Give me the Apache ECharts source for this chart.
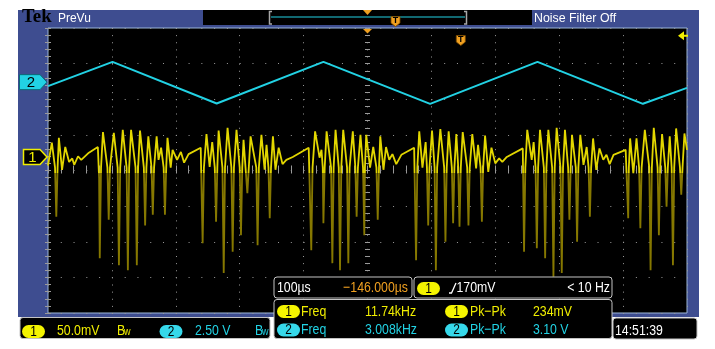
<!DOCTYPE html>
<html><head><meta charset="utf-8">
<script src="https://cdn.jsdelivr.net/npm/echarts/dist/echarts.min.js"></script>
<style>html,body{margin:0;padding:0;background:#fff}#c{width:715px;height:349px}</style>
</head><body><div id="c"></div>
<script>
// ---- data (time in µs, channel 1 in mV, channel 2 in V) ----
const ch1Samples = [
[0,-12],[6,20],[11,-15],[13,-84],[15,-15],[17,27],[22,-18],[27,14],[33,-7],[38,-2],[41,-11],[47,1],[52,-4],[64,6],[78,14],
[80,-30],[81,-142],[83,-15],[86,35],[93,-15],[95,-88],[97,-15],[103,34],[109,-15],[111,-152],[113,-15],[117,38],[123,-15],[125,-159],[127,-15],[130,38],[137,-15],[139,-152],[141,-15],[144,37],[150,-15],[152,-96],[154,-15],[157,29],[162,-15],[164,-81],[166,-15],[170,29],[173,-4],[177,13],[181,-15],[183,-81],[185,-15],[187,27],[192,-15],[195,10],
[202,-4],[208,7],[213,-8],[220,4],[239,13],
[242,-121],[244,-15],[248,32],[253,-14],[257,21],[261,-15],[263,-91],[265,-15],[267,37],[273,-15],[275,-163],[277,-15],[281,41],[287,-15],[289,-133],[291,-15],[295,38],[300,-15],[302,-110],[304,-15],[306,24],[312,-51],[317,29],[326,-15],[328,-124],[330,-15],[334,31],[339,-18],[342,17],[345,-15],[347,-86],[349,-15],[352,29],[356,-18],[361,13],[367,-10],
[373,-4],[383,0],[408,13],
[412,-131],[414,-15],[418,36],[425,-1],[428,10],[430,-15],[431,-93],[433,-15],[436,36],[443,-15],[445,-149],[447,-15],[450,38],[455,-15],[457,-159],[459,-15],[462,38],[468,-15],[470,-149],[472,-15],[477,36],[481,-15],[483,-84],[485,-15],[489,31],[493,-15],[495,-110],[496,-15],[498,31],[504,-15],[509,14],[514,-15],[516,-88],[518,-15],[520,29],[525,-18],[529,14],
[534,-4],[539,4],[545,-10],[553,3],[573,13],
[576,-145],[578,-15],[581,36],[586,-15],[591,21],[593,-15],[595,-96],[597,-15],[601,37],[605,-15],[607,-159],[609,-15],[614,39],[620,-15],[622,-119],[624,-15],[627,36],[632,-15],[634,-93],[636,-15],[639,32],[642,-15],[644,-98],[646,-15],[649,35],[656,-15],[658,-96],[660,-15],[664,32],[670,-16],[673,17],[677,-15],[679,-91],[681,-15],[684,30],[689,-21],[694,13],[700,-9],
[706,-2],[711,-7],[718,0],[743,12],
[745,-133],[747,-15],[750,38],[757,-4],[760,21],[763,-15],[765,-128],[767,-15],[770,38],[776,-15],[778,-142],[780,-15],[783,38],[789,-15],[791,-168],[793,-15],[796,41],[802,-15],[804,-163],[806,-15],[809,38],[814,-15],[816,-88],[818,-15],[820,31],[826,-15],[828,-119],[830,-15],[833,31],[838,-11],[843,14],[846,-15],[848,-84],[850,-15],[853,26],[858,-18],[863,12],
[869,-4],[874,3],[879,-10],[885,3],[904,10],
[908,-86],[909,-15],[911,26],[916,-23],[921,26],[925,-15],[927,-100],[929,-15],[934,38],[941,-15],[943,-159],[945,-15],[948,41],[954,-15],[956,-110],[958,-15],[961,32],[966,-15],[968,-70],[970,-15],[973,29],[976,-15],[978,-152],[980,-15],[983,40],[989,-15],[991,-53],[993,-15],[996,33],[1000,10]
];
const ch2Time  = [0, 101, 264, 431, 598, 766, 931, 1000];
const ch2Volts = [-0.28, 1.42, -1.5, 1.42, -1.52, 1.42, -1.52, -0.4];

// scope settings
const timePerDiv = 100;      // µs/div
const ch1PerDiv = 50;        // mV/div
const ch2PerDiv = 2.5;       // V/div
const ch1Position = 0.38;    // div
const ch2Position = 2.48;    // div
const triggerLevel = 170;    // mV
const triggerTime = 646;     // µs (centre 500 + 146 delay)
const brightAbove = -22;     // mV, trace drawn bright above this level

// readout texts
const ch1ScaleText = '50.0mV', ch2ScaleText = '2.50 V';
const timebaseText = '100\u00b5s', delayText = '\u2212146.000\u00b5s';
const trigText = '170mV', trigFreqText = '< 10 Hz';
const freqValues = ['11.74kHz', '3.008kHz'];
const pkpkValues = ['234mV', '3.10 V'];
const clockText = '14:51:39';

const G = {left: 48, top: 28, width: 639, height: 285};
const tickC = '#9a9a9a';
const dotC = '#9a9a9a';
const YEL = '#f0ee00', CYN = '#22d2e4', ORG = '#f0a020', FRAME = '#3e4d90';

function axisBase(extra) {
  return Object.assign({
    type: 'value', axisLine: {show: false}, axisLabel: {show: false},
    axisTick: {show: true, inside: true, length: 3, lineStyle: {color: tickC}},
    minorTick: {show: true, splitNumber: 5, length: 3, lineStyle: {color: tickC}},
    splitLine: {show: false}
  }, extra);
}
const xr = {min: 0, max: 10 * timePerDiv, interval: timePerDiv};
const yr = {min: -4, max: 4, interval: 1};

const option = {
  animation: false,
  backgroundColor: '#ffffff',
  grid: Object.assign({show: true, backgroundColor: '#000', borderColor: '#9bb6da', borderWidth: 1}, G),
  xAxis: [
    axisBase(Object.assign({position: 'bottom', splitLine: {show: true, lineStyle: {color: dotC, width: 1, type: [1, 6.125]}}}, xr)),
    axisBase(Object.assign({position: 'top'}, xr)),
    axisBase(Object.assign({position: 'bottom', offset: -(G.height / 2) + 2.5,
      axisTick: {show: true, inside: true, length: 5, lineStyle: {color: tickC}},
      minorTick: {show: true, splitNumber: 5, length: 5, lineStyle: {color: tickC}}}, xr))
  ],
  yAxis: [
    axisBase(Object.assign({position: 'left', splitLine: {show: true, lineStyle: {color: dotC, width: 1, type: [1, 11.78]}}}, yr)),
    axisBase(Object.assign({position: 'right'}, yr)),
    axisBase(Object.assign({position: 'left', offset: -(G.width / 2) + 2.5,
      axisTick: {show: true, inside: true, length: 5, lineStyle: {color: tickC}},
      minorTick: {show: true, splitNumber: 5, length: 5, lineStyle: {color: tickC}}}, yr)),
    {type: 'value', show: false, min: (-4 - ch1Position) * ch1PerDiv, max: (4 - ch1Position) * ch1PerDiv},
    {type: 'value', show: false, min: (-4 - ch2Position) * ch2PerDiv, max: (4 - ch2Position) * ch2PerDiv}
  ],
  series: [
    {type: 'line', xAxisIndex: 0, yAxisIndex: 4, showSymbol: false, z: 3,
     data: ch2Time.map((t, i) => [t, ch2Volts[i]]),
     lineStyle: {color: CYN, width: 2}},
    {type: 'line', xAxisIndex: 0, yAxisIndex: 3, showSymbol: false, z: 2,
     data: ch1Samples, lineStyle: {width: 1.8, color: '#c8b800'}}
  ]
};

const chart = echarts.init(document.getElementById('c'));
chart.setOption(option);

const ch1Y = chart.convertToPixel({yAxisIndex: 3}, 0);
const ch2Y = chart.convertToPixel({yAxisIndex: 4}, 0);
const trigY = chart.convertToPixel({yAxisIndex: 3}, triggerLevel);
const trigX = chart.convertToPixel({xAxisIndex: 0}, triggerTime);
const midX = chart.convertToPixel({xAxisIndex: 0}, 5 * timePerDiv);
const splitY = chart.convertToPixel({yAxisIndex: 3}, brightAbove);
const topY = G.top, botY = G.top + G.height;
const sf = (splitY - topY) / (botY - topY);
const ch1Gradient = new echarts.graphic.LinearGradient(0, topY, 0, botY, [
  {offset: 0, color: '#ece000'}, {offset: sf, color: '#e0d400'},
  {offset: sf, color: '#867800'}, {offset: 1, color: '#867800'}], true);

const FONT = '"Liberation Sans", Arial, sans-serif';
function txt(x, y, s, fill, o) {
  o = o || {};
  return {type: 'text', x: x, y: y, scaleX: o.sx || 0.82, z: 120,
    style: {text: s, x: 0, y: 0, fill: fill, fontSize: o.fs || 15, fontFamily: o.ff || FONT,
      fontWeight: o.fw || 'normal', align: o.align || 'left', verticalAlign: 'middle'}};
}
function box(x, y, w, h) {
  return {type: 'rect', z: 110, shape: {x: x, y: y, width: w, height: h, r: 3},
    style: {fill: '#000', stroke: '#c4c4c4', lineWidth: 1}};
}
function badge(x, y, label, fill) {
  return [
    {type: 'rect', z: 115, shape: {x: x, y: y - 6.5, width: 23, height: 13, r: 6.5}, style: {fill: fill}},
    {type: 'text', x: x + 11.5, y: y + 0.5, scaleX: 0.85, z: 120,
     style: {text: label, x: 0, y: 0, fill: '#000', fontSize: 14, fontFamily: FONT, align: 'center', verticalAlign: 'middle'}}
  ];
}
function bw(x, y, fill) {
  return [txt(x, y, 'B', fill), txt(x + 7, y + 2, 'w', fill, {fs: 10, sx: 0.9})];
}
function tMarker(x, y) {
  return [
    {type: 'polygon', z: 120, shape: {points: [[x - 4.5, y], [x + 4.5, y], [x + 4.5, y + 6.5], [x, y + 10], [x - 4.5, y + 6.5]]},
     style: {fill: ORG, stroke: '#7a4a00', lineWidth: 0.8}},
    {type: 'text', x: x, y: y + 4.5, z: 121,
     style: {text: 'T', x: 0, y: 0, fill: '#000', fontSize: 9, fontWeight: 'bold', fontFamily: FONT, align: 'center', verticalAlign: 'middle'}}
  ];
}

let g = [
  {type: 'rect', z: -10, shape: {x: 18, y: 10, width: 681, height: 307}, style: {fill: FRAME}},
  txt(22, 17.5, 'Tek', '#000', {fs: 18, fw: 'bold', ff: '"Liberation Serif", "DejaVu Serif", serif', sx: 1.05}),
  txt(58, 18, 'PreVu', '#fff', {fs: 13, sx: 0.92}),
  {type: 'rect', z: 100, shape: {x: 203, y: 10, width: 329, height: 15}, style: {fill: '#000'}},
  {type: 'polyline', z: 105, shape: {points: [[272, 11.5], [269.5, 11.5], [269.5, 24], [272, 24]]}, style: {stroke: '#a8a8a8', lineWidth: 1.5, fill: null}},
  {type: 'polyline', z: 105, shape: {points: [[464, 11.5], [466.5, 11.5], [466.5, 24], [464, 24]]}, style: {stroke: '#a8a8a8', lineWidth: 1.5, fill: null}},
  {type: 'line', z: 105, shape: {x1: 271, y1: 17, x2: 465, y2: 17}, style: {stroke: CYN, lineWidth: 1}},
  {type: 'polygon', z: 120, shape: {points: [[363, 10], [372, 10], [367.5, 15]]}, style: {fill: ORG}},
  txt(534, 18, 'Noise Filter Off', '#fff', {fs: 13, sx: 0.95}),
  {type: 'polygon', z: 120, shape: {points: [[midX - 4.5, 29], [midX + 4.5, 29], [midX, 33.5]]}, style: {fill: ORG}},
  {type: 'polygon', z: 120, shape: {points: [[678, trigY], [684, trigY - 4.5], [684, trigY - 1], [688, trigY - 1], [688, trigY + 1], [684, trigY + 1], [684, trigY + 4.5]]}, style: {fill: YEL}},
  {type: 'polygon', z: 120, shape: {points: [[19.5, ch2Y - 7.5], [40, ch2Y - 7.5], [47, ch2Y], [40, ch2Y + 7.5], [19.5, ch2Y + 7.5]]},
   style: {fill: CYN, stroke: '#0a6a78', lineWidth: 1}},
  {type: 'text', x: 31, y: ch2Y + 0.5, z: 121, style: {text: '2', x: 0, y: 0, fill: '#000', fontSize: 15, fontFamily: FONT, align: 'center', verticalAlign: 'middle'}},
  {type: 'polygon', z: 120, shape: {points: [[23.5, ch1Y - 7.5], [40, ch1Y - 7.5], [47, ch1Y], [40, ch1Y + 7.5], [23.5, ch1Y + 7.5]]},
   style: {fill: '#000', stroke: YEL, lineWidth: 1.5}},
  {type: 'text', x: 32.5, y: ch1Y + 0.5, z: 121, style: {text: '1', x: 0, y: 0, fill: YEL, fontSize: 15, fontFamily: FONT, align: 'center', verticalAlign: 'middle'}},
  box(20, 317.5, 250, 21),
  box(274, 277, 138, 21),
  box(414, 277, 198, 21),
  box(274, 299.5, 338, 39),
  box(613, 318, 84, 21),
  txt(57, 331, ch1ScaleText, YEL),
  txt(195, 331, ch2ScaleText, CYN),
  txt(277, 288, timebaseText, '#fff'),
  txt(408, 288, delayText, ORG, {align: 'right'}),
  {type: 'polyline', z: 120, shape: {points: [[449, 293], [451.5, 293], [456, 283]]}, style: {stroke: '#fff', lineWidth: 1.3, fill: null}},
  txt(456.5, 288, trigText, '#fff'),
  txt(610, 288, trigFreqText, '#fff', {align: 'right'}),
  txt(301, 311.5, 'Freq', YEL),
  txt(301, 330, 'Freq', CYN),
  txt(365, 311.5, freqValues[0], YEL),
  txt(365, 330, freqValues[1], CYN),
  txt(470, 311.5, 'Pk\u2212Pk', YEL),
  txt(470, 330, 'Pk\u2212Pk', CYN),
  txt(533, 311.5, pkpkValues[0], YEL),
  txt(533, 330, pkpkValues[1], CYN),
  txt(615, 330.5, clockText, '#fff')
];
g = g.concat(tMarker(395.5, 16.5), tMarker(trigX, 35.5),
  badge(22, 331.5, '1', '#f4f400'), badge(159.5, 331.5, '2', '#36d8ea'),
  badge(417, 288.5, '1', '#f4f400'),
  badge(277, 311.5, '1', '#f4f400'), badge(277, 330, '2', '#36d8ea'),
  badge(445, 311.5, '1', '#f4f400'), badge(445, 330, '2', '#36d8ea'),
  bw(117, 330.5, YEL), bw(255, 330.5, CYN));
chart.setOption({graphic: g, series: [{}, {lineStyle: {color: ch1Gradient}}]});
</script>
</body></html>
